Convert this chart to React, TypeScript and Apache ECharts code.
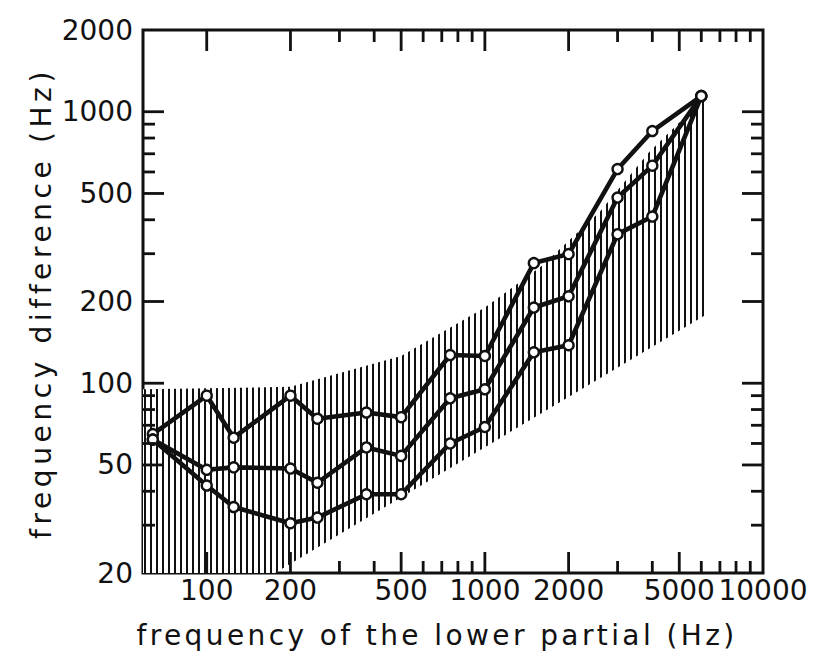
import React, { useEffect, useRef } from 'react';
import * as echarts from 'echarts';

// Frequencies of the lower partial (Hz)
const freqs = [64, 100, 125, 200, 250, 375, 500, 750, 1000, 1500, 2000, 3000, 4000, 6000];
// Three measured curves (frequency difference, Hz)
const upperCurve = [65, 90, 63, 90, 74, 78, 75, 127, 126, 277, 299, 615, 849, 1142];
const middleCurve = [62, 48, 49, 48.5, 43, 58, 54, 88, 95, 190, 209, 483, 633, 1142];
const lowerCurve = [62, 42, 35, 30.5, 32, 39, 39, 60, 69, 130, 138, 354, 411, 1142];

// Hatched band boundaries
const bandUpperFreq = [59, 200, 500, 1000, 1600, 2600, 3900, 6300];
const bandUpperVal = [95, 97, 126, 190, 270, 430, 710, 1150];
const bandLowerFreq = [6300, 176, 59];
const bandLowerVal = [180, 20, 20];

// Axis ticks and labels
const xMajorTicks = [100, 200, 500, 1000, 2000, 5000];
const xMinorTicks = [300, 400, 600, 700, 800, 900, 3000, 4000, 6000, 7000, 8000, 9000];
const xLabels = [100, 200, 500, 1000, 2000, 5000, 10000];
const yMajorTicks = [50, 100, 200, 500, 1000];
const yMinorTicks = [30, 40, 60, 70, 80, 90, 300, 400, 600, 700, 800, 900];
const yLabels = [20, 50, 100, 200, 500, 1000, 2000];

const xTitle = 'frequency of the lower partial (Hz)';
const yTitle = 'frequency difference (Hz)';

const INK = '#111';
const LABEL_FONT = 'DejaVu Sans';

function makeHatch(): string {
  const c = document.createElement('canvas');
  c.width = 6;
  c.height = 6;
  const ctx = c.getContext('2d')!;
  ctx.fillStyle = '#fff';
  ctx.fillRect(0, 0, 6, 6);
  ctx.fillStyle = INK;
  ctx.fillRect(0, 0, 2, 6);
  return c.toDataURL();
}

export default function App() {
  const ref = useRef<HTMLDivElement>(null);

  useEffect(() => {
    document.body.style.margin = '0';
    const chart = echarts.init(ref.current!, null, { renderer: 'svg' });
    const hatch = makeHatch();

    const xTickSeries = (ticks: number[], len: number) => ({
      type: 'custom',
      coordinateSystem: 'cartesian2d',
      silent: true,
      z: 5,
      data: ticks.map((v) => [v, 100]),
      renderItem: (params: any, api: any) => {
        const cs = params.coordSys;
        const px = api.coord([api.value(0), 100])[0];
        const top = cs.y;
        const bot = cs.y + cs.height;
        return {
          type: 'group',
          children: [
            { type: 'line', shape: { x1: px, y1: bot, x2: px, y2: bot - len }, style: { stroke: INK, lineWidth: 2.8 } },
            { type: 'line', shape: { x1: px, y1: top, x2: px, y2: top + len }, style: { stroke: INK, lineWidth: 2.8 } },
          ],
        };
      },
    });

    const yTickSeries = (ticks: number[], len: number) => ({
      type: 'custom',
      coordinateSystem: 'cartesian2d',
      silent: true,
      z: 5,
      data: ticks.map((v) => [100, v]),
      renderItem: (params: any, api: any) => {
        const cs = params.coordSys;
        const py = api.coord([100, api.value(1)])[1];
        const left = cs.x;
        const right = cs.x + cs.width;
        return {
          type: 'group',
          children: [
            { type: 'line', shape: { x1: left, y1: py, x2: left + len, y2: py }, style: { stroke: INK, lineWidth: 2.8 } },
            { type: 'line', shape: { x1: right, y1: py, x2: right - len, y2: py }, style: { stroke: INK, lineWidth: 2.8 } },
          ],
        };
      },
    });

    const lineSeries = (vals: number[]) => ({
      type: 'line',
      data: freqs.map((f, i) => [f, vals[i]]),
      symbol: 'circle',
      symbolSize: 10,
      z: 4,
      lineStyle: { color: INK, width: 4.6 },
      itemStyle: { color: '#fff', borderColor: INK, borderWidth: 2.4 },
      emphasis: { disabled: true },
    });

    const option: any = {
      animation: false,
      backgroundColor: '#fff',
      grid: {
        left: 143,
        top: 30,
        width: 620,
        height: 543,
        show: true,
        borderColor: INK,
        borderWidth: 3,
        backgroundColor: 'transparent',
      },
      xAxis: {
        type: 'log',
        logBase: 10,
        min: 59,
        max: 10000,
        axisLine: { show: false },
        axisTick: { show: false },
        axisLabel: { show: false },
        splitLine: { show: false },
      },
      yAxis: {
        type: 'log',
        logBase: 10,
        min: 20,
        max: 2000,
        axisLine: { show: false },
        axisTick: { show: false },
        axisLabel: { show: false },
        splitLine: { show: false },
      },
      graphic: [
        {
          type: 'text',
          x: 437,
          y: 635,
          style: {
            text: xTitle,
            textAlign: 'center',
            textVerticalAlign: 'middle',
            fontSize: 28,
            fontFamily: '"DejaVu Sans", axistitlex',
            fill: INK,
          },
        },
        {
          type: 'text',
          x: 41,
          y: 303,
          rotation: Math.PI / 2,
          style: {
            text: yTitle,
            textAlign: 'center',
            textVerticalAlign: 'middle',
            fontSize: 28,
            fontFamily: '"DejaVu Sans", axistitley',
            fill: INK,
          },
        },
      ],
      series: [
        {
          type: 'custom',
          coordinateSystem: 'cartesian2d',
          silent: true,
          z: 1,
          data: [[bandUpperFreq[0], bandUpperVal[0]]],
          renderItem: (_params: any, api: any) => {
            const pts: number[][] = [];
            bandUpperFreq.forEach((f, i) => pts.push(api.coord([f, bandUpperVal[i]])));
            bandLowerFreq.forEach((f, i) => pts.push(api.coord([f, bandLowerVal[i]])));
            return {
              type: 'polygon',
              shape: { points: pts },
              style: {
                fill: { image: hatch, repeat: 'repeat', imageWidth: 6, imageHeight: 6 },
                stroke: null,
              },
            };
          },
        },
        lineSeries(upperCurve),
        lineSeries(middleCurve),
        lineSeries(lowerCurve),
        xTickSeries(xMajorTicks, 21),
        xTickSeries(xMinorTicks, 12),
        yTickSeries(yMajorTicks, 21),
        yTickSeries(yMinorTicks, 12),
        {
          type: 'custom',
          coordinateSystem: 'cartesian2d',
          silent: true,
          z: 6,
          data: xLabels.map((v) => [v, 100]),
          renderItem: (params: any, api: any) => {
            const cs = params.coordSys;
            const v = api.value(0);
            const px = api.coord([v, 100])[0];
            return {
              type: 'text',
              x: px,
              y: cs.y + cs.height + 17,
              style: {
                text: String(v),
                textAlign: 'center',
                textVerticalAlign: 'middle',
                fontSize: 28,
                fontFamily: LABEL_FONT,
                fill: INK,
              },
            };
          },
        },
        {
          type: 'custom',
          coordinateSystem: 'cartesian2d',
          silent: true,
          z: 6,
          data: yLabels.map((v) => [100, v]),
          renderItem: (params: any, api: any) => {
            const cs = params.coordSys;
            const v = api.value(1);
            const py = api.coord([100, v])[1];
            return {
              type: 'text',
              x: cs.x - 10,
              y: py,
              style: {
                text: String(v),
                textAlign: 'right',
                textVerticalAlign: 'middle',
                fontSize: 28,
                fontFamily: LABEL_FONT,
                fill: INK,
              },
            };
          },
        },
      ],
    };

    chart.setOption(option);
    return () => chart.dispose();
  }, []);

  return (
    <>
      <style>
        {'text[style*="axistitlex"]{letter-spacing:3.4px}text[style*="axistitley"]{letter-spacing:4.6px}'}
      </style>
      <div ref={ref} style={{ width: 816, height: 659 }} />
    </>
  );
}
